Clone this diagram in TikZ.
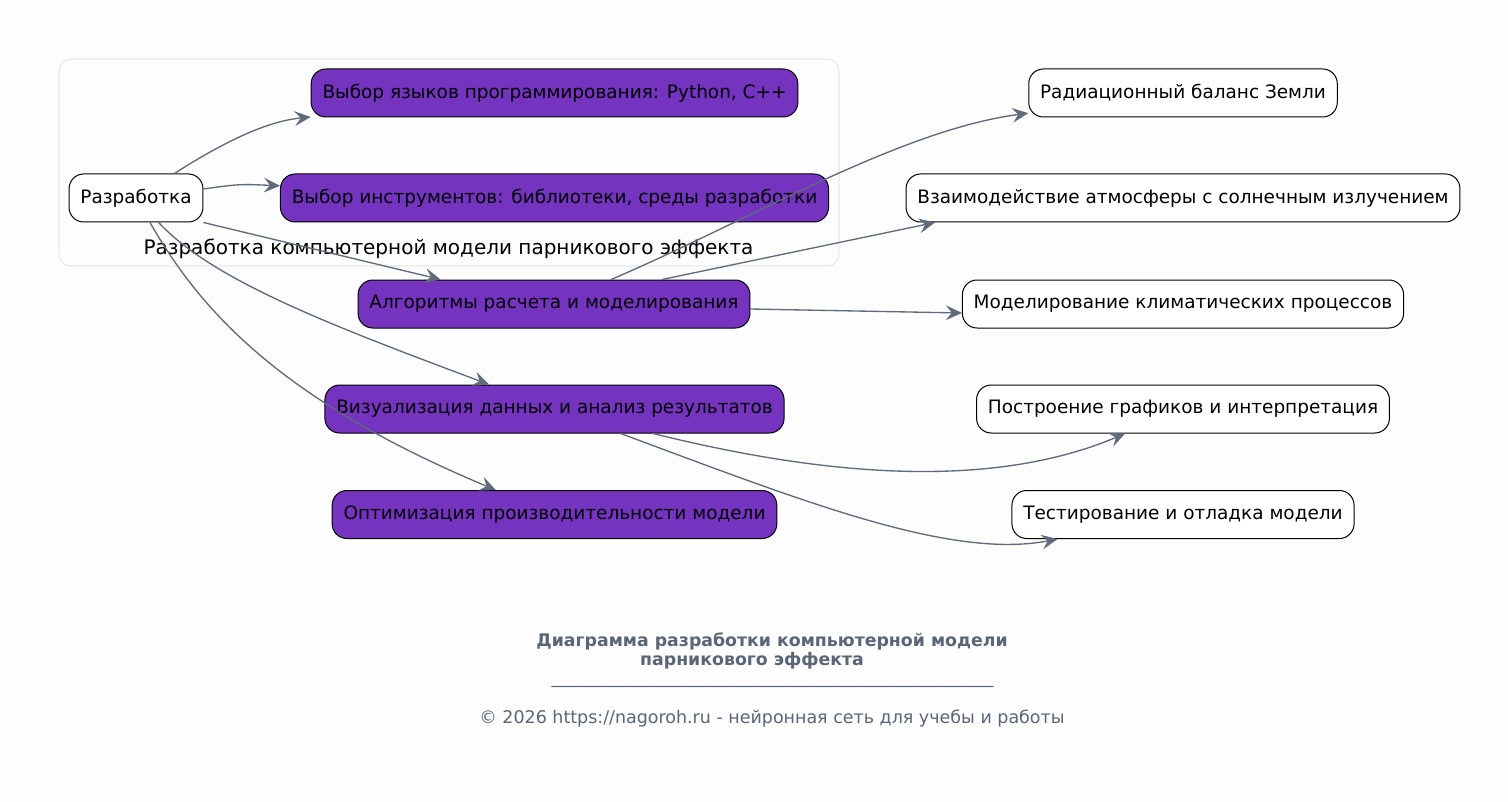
\documentclass[tikz,border=0pt]{standalone}
\usepackage{fontspec}
\setmainfont{DejaVu Sans}
\usepackage{xcolor}
\usetikzlibrary{positioning, arrows.meta}
\definecolor{stepfill}{HTML}{7434C0}
\definecolor{edgegray}{HTML}{5F6B7A}
\definecolor{footgray}{HTML}{5A6677}
\definecolor{bggray}{HTML}{FDFDFD}
\definecolor{clustergray}{HTML}{D9D9D9}

\begin{document}
\begin{tikzpicture}[x=0.75pt,y=-0.75pt,>={Stealth[length=12pt,width=11pt,inset=4.5pt]},
  box/.style={draw,rounded corners=11pt,minimum height=36pt,inner xsep=8.5pt,
              font=\fontsize{13.85}{16}\selectfont,line width=0.75pt},
  sub/.style={box,fill=stepfill},
  leaf/.style={box,fill=white},
  link/.style={->,edgegray,line width=1pt}]
  \fill[bggray](0,0) rectangle (1508,802);
  \useasboundingbox (0,0) rectangle (1508,802);
  % cluster
  \draw[clustergray,rounded corners=9pt](59,59) rectangle (839,266);
  \node[font=\fontsize{15}{17}\selectfont](clabel) at (448.5,249)
       {Разработка компьютерной модели парникового эффекта};
  % steps
  \node[leaf](dev) at (136,198){Разработка};
  \node[sub](lang) at (554.5,93){Выбор языков программирования: Python, C++};
  \node[sub](tools) at (554.5,198){Выбор инструментов: библиотеки, среды разработки};
  \node[sub](algo) at (554,304){Алгоритмы расчета и моделирования};
  \node[sub](vis) at (554.5,409){Визуализация данных и анализ результатов};
  \node[sub](opt) at (554.5,514.5){Оптимизация производительности модели};
  % results
  \node[leaf](rad) at (1183,93){Радиационный баланс Земли};
  \node[leaf](inter) at (1183,198){Взаимодействие атмосферы с солнечным излучением};
  \node[leaf](model) at (1183,304){Моделирование климатических процессов};
  \node[leaf](build) at (1183,409){Построение графиков и интерпретация};
  \node[leaf](test) at (1183,514.5){Тестирование и отладка модели};
  % links from dev
  \draw[link](dev) .. controls (230,138) and (270,121) .. (lang);
  \draw[link](dev) .. controls (240,184) .. (tools);
  \draw[link](dev.south east) -- ([xshift=-85pt]algo.north);
  \draw[link](dev) .. controls (212,280) and (330,325) .. (vis);
  \draw[link](dev) .. controls (200,310) and (280,400) .. (opt);
  % links to results
  \draw[link](algo) .. controls (750,220) and (900,130) .. (rad);
  \draw[link]([xshift=81pt]algo.north) -- ([xshift=-186pt]inter.south);
  \draw[link]([yshift=-3.75pt]algo.east) -- ([yshift=-6.75pt]model.west);
  \draw[link](vis) .. controls (800,470) and (980,495) .. (build);
  \draw[link](vis) .. controls (800,500) and (950,560) .. (test);
  % footer
  \node[footgray,align=center,font=\bfseries\fontsize{13}{14.25}\selectfont](title) at (772,651)
       {Диаграмма разработки компьютерной модели\\парникового эффекта\hspace*{30pt}};
  \node[footgray,anchor=base,font=\fontsize{13}{15}\selectfont](rule) at (772.5,683)
       {\_\_\_\_\_\_\_\_\_\_\_\_\_\_\_\_\_\_\_\_\_\_\_\_\_\_\_\_\_\_\_\_\_\_\_\_\_\_\_\_\_\_\_\_\_\_\_\_\_\_\_};
  \node[footgray,font=\fontsize{13.1}{15}\selectfont](copy) at (772,719)
       {© 2026 https://nagoroh.ru - нейронная сеть для учебы и работы};
\end{tikzpicture}
\end{document}
